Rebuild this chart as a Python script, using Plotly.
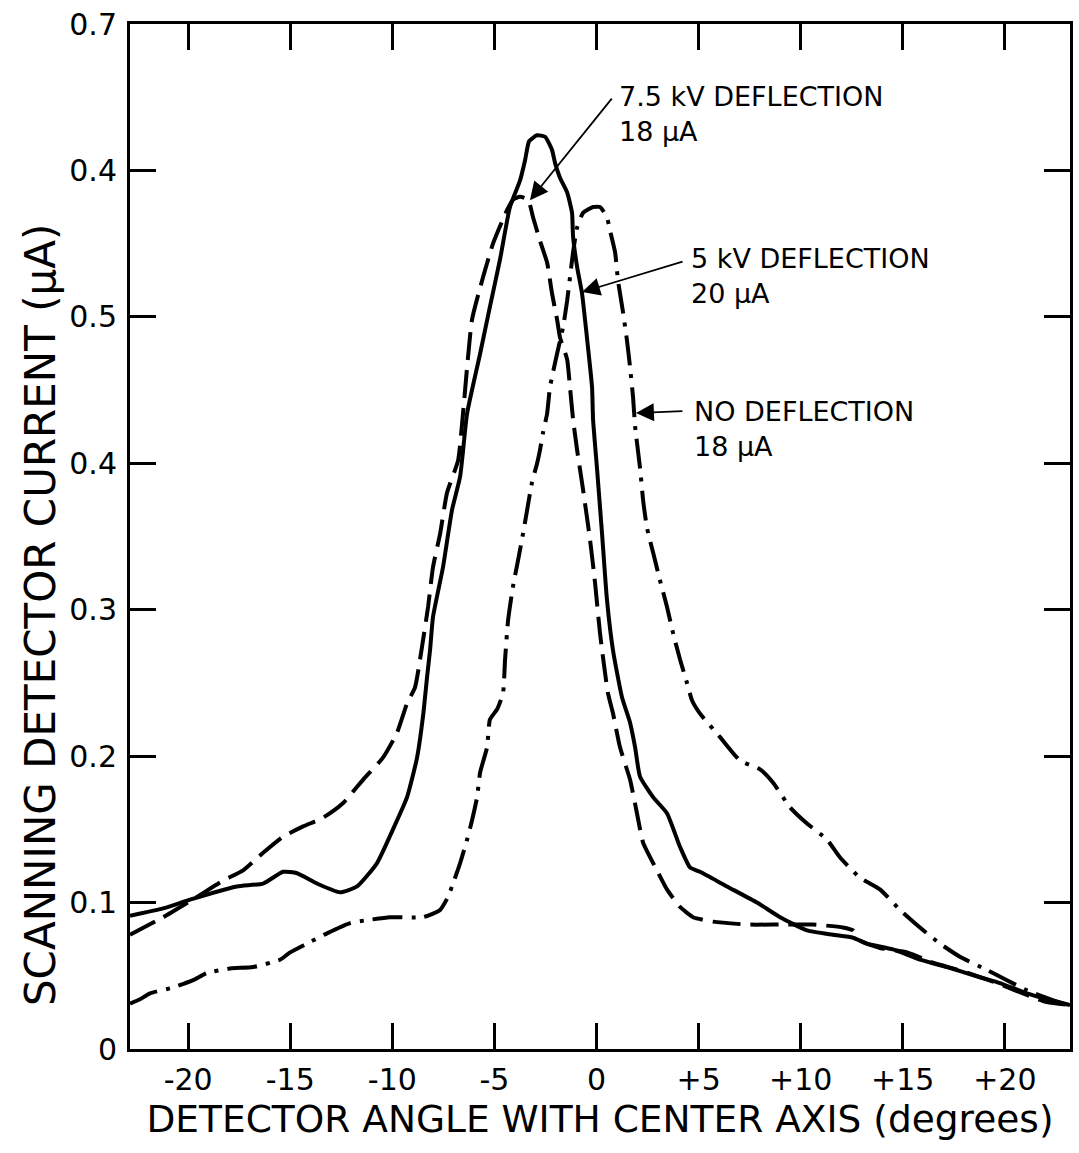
import plotly.graph_objects as go

# ---- data ----
angle_5kv = [-22.85, -21.23, -19.91, -17.61, -16.33, -15.35, -14.67, -13.69, -12.56, -11.73,
             -10.75, -9.97, -9.28, -8.79, -8.50, -8.30, -8.15, -8.01, -7.52, -7.08,
             -6.68, -6.34, -5.70, -5.22, -4.73, -4.24, -3.75, -3.50, -3.30, -2.91,
             -2.52, -2.18, -2.03, -1.79, -1.44, -1.20, -1.15, -0.95, -0.71, -0.47,
             -0.22, -0.17, 0.02, 0.27, 0.51, 0.81, 1.25, 1.64, 1.89, 2.13,
             2.77, 3.45, 4.09, 4.58, 5.07, 6.39, 7.86, 8.99, 10.31, 11.58,
             12.56, 13.25, 14.52, 15.84, 17.16, 18.78, 19.76, 21.08, 22.06, 23.19]
current_5kv = [0.091, 0.096, 0.102, 0.111, 0.113, 0.121, 0.120, 0.113, 0.107, 0.111,
               0.127, 0.150, 0.172, 0.199, 0.227, 0.254, 0.273, 0.295, 0.329, 0.368,
               0.391, 0.434, 0.475, 0.507, 0.539, 0.575, 0.593, 0.607, 0.620, 0.624,
               0.623, 0.614, 0.605, 0.595, 0.585, 0.571, 0.555, 0.534, 0.516, 0.486,
               0.452, 0.430, 0.397, 0.352, 0.307, 0.272, 0.240, 0.223, 0.206, 0.186,
               0.172, 0.161, 0.138, 0.124, 0.121, 0.111, 0.100, 0.090, 0.081, 0.078,
               0.076, 0.072, 0.068, 0.061, 0.056, 0.049, 0.045, 0.038, 0.034, 0.030]

angle_7kv = [-22.85, -21.23, -19.56, -18.29, -17.31, -16.33, -15.35, -14.37, -13.39, -12.41,
             -11.43, -10.46, -9.77, -9.28, -8.89, -8.50, -8.25, -8.01, -7.66, -7.32,
             -6.78, -6.54, -6.10, -5.56, -5.07, -4.38, -4.09, -3.75, -3.35, -3.11,
             -2.77, -2.42, -2.18, -1.93, -1.79, -1.44, -1.30, -1.15, -0.95, -0.66,
             -0.32, -0.07, 0.17, 0.56, 0.81, 1.15, 1.64, 1.98, 2.28, 2.96,
             3.45, 4.09, 4.73, 5.71, 7.37, 8.99, 10.60, 12.07, 12.56, 12.90,
             13.88, 15.21, 16.48, 17.95, 19.61, 21.23, 22.06, 23.19]
current_7kv = [0.078, 0.090, 0.104, 0.115, 0.122, 0.134, 0.145, 0.152, 0.158, 0.168,
               0.184, 0.199, 0.216, 0.236, 0.247, 0.279, 0.302, 0.329, 0.352, 0.380,
               0.402, 0.434, 0.498, 0.527, 0.550, 0.573, 0.580, 0.582, 0.580, 0.568,
               0.552, 0.537, 0.516, 0.498, 0.486, 0.471, 0.452, 0.430, 0.409, 0.382,
               0.348, 0.318, 0.284, 0.243, 0.229, 0.206, 0.184, 0.161, 0.141, 0.122,
               0.109, 0.097, 0.090, 0.087, 0.085, 0.085, 0.085, 0.083, 0.081, 0.074,
               0.069, 0.066, 0.059, 0.053, 0.045, 0.036, 0.032, 0.030]

angle_nodef = [-22.85, -22.36, -21.87, -20.74, -19.76, -19.07, -17.95, -16.82, -15.50, -15.01,
               -14.18, -13.20, -12.07, -11.24, -10.11, -8.50, -7.66, -7.27, -7.03, -6.68,
               -6.34, -6.10, -5.85, -5.70, -5.36, -5.22, -4.87, -4.58, -4.48, -4.33,
               -4.09, -3.84, -3.60, -3.40, -3.16, -2.91, -2.77, -2.62, -2.42, -2.28,
               -1.93, -1.64, -1.44, -1.30, -1.15, -0.95, -0.66, -0.17, 0.17, 0.51,
               0.66, 0.91, 1.05, 1.30, 1.49, 1.64, 1.79, 1.89, 2.13, 2.28,
               2.47, 2.77, 3.11, 3.45, 3.75, 4.09, 4.43, 4.68, 5.07, 6.05,
               7.03, 8.01, 8.64, 9.48, 10.31, 11.29, 11.92, 12.90, 13.88, 14.86,
               15.84, 16.82, 17.80, 19.12, 20.10, 21.08, 22.21, 23.04]
current_nodef = [0.031, 0.034, 0.038, 0.042, 0.047, 0.052, 0.055, 0.056, 0.061, 0.066,
                 0.072, 0.079, 0.086, 0.088, 0.090, 0.090, 0.095, 0.104, 0.113, 0.127,
                 0.143, 0.156, 0.172, 0.189, 0.206, 0.225, 0.232, 0.243, 0.266, 0.293,
                 0.316, 0.334, 0.352, 0.368, 0.387, 0.400, 0.409, 0.421, 0.434, 0.452,
                 0.475, 0.493, 0.511, 0.527, 0.544, 0.561, 0.571, 0.575, 0.575, 0.568,
                 0.559, 0.544, 0.525, 0.503, 0.484, 0.466, 0.445, 0.425, 0.397, 0.375,
                 0.356, 0.339, 0.320, 0.302, 0.284, 0.266, 0.250, 0.238, 0.229, 0.213,
                 0.197, 0.191, 0.182, 0.165, 0.154, 0.143, 0.131, 0.117, 0.109, 0.095,
                 0.083, 0.072, 0.063, 0.054, 0.047, 0.040, 0.034, 0.030]

x_tickvals = [-20, -15, -10, -5, 0, 5, 10, 15, 20]
x_ticktext = ["-20", "-15", "-10", "-5", "0", "+5", "+10", "+15", "+20"]
y_tickvals = [0, 0.1, 0.2, 0.3, 0.4, 0.5, 0.6, 0.7]
y_ticktext = ["0", "0.1", "0.2", "0.3", "0.4", "0.5", "0.4", "0.7"]

FONT = "DejaVu Sans"

fig = go.Figure()
fig.add_trace(go.Scatter(x=angle_nodef, y=current_nodef, mode="lines", name="NO DEFLECTION 18 μA",
                         line=dict(color="black", width=4, dash="30px,9px,4px,9px",
                                   shape="spline", smoothing=0.5)))
fig.add_trace(go.Scatter(x=angle_7kv, y=current_7kv, mode="lines", name="7.5 kV DEFLECTION 18 μA",
                         line=dict(color="black", width=4, dash="28px,10px",
                                   shape="spline", smoothing=0.5)))
fig.add_trace(go.Scatter(x=angle_5kv, y=current_5kv, mode="lines", name="5 kV DEFLECTION 20 μA",
                         line=dict(color="black", width=4, shape="spline", smoothing=0.5)))

# arrows pointing at curves
arrows = [
    dict(x=-3.26, y=0.5797, ax=83, ay=-103),
    dict(x=-0.71, y=0.5169, ax=102, ay=-31),
    dict(x=1.93, y=0.4343, ax=48, ay=-2),
]
for a in arrows:
    fig.add_annotation(x=a["x"], y=a["y"], xref="x", yref="y", ax=a["ax"], ay=a["ay"],
                       axref="pixel", ayref="pixel", text="", showarrow=True,
                       arrowhead=2, arrowsize=2.0, arrowwidth=1.8, arrowcolor="black")

labels = [
    dict(x=0.5180, y=0.9122, text="7.5 kV DEFLECTION<br>18 μA"),
    dict(x=0.5950, y=0.7537, text="5 kV DEFLECTION<br>20 μA"),
    dict(x=0.5980, y=0.6044, text="NO DEFLECTION<br>18 μA"),
]
for lb in labels:
    fig.add_annotation(x=lb["x"], y=lb["y"], xref="paper", yref="paper", text=lb["text"],
                       showarrow=False, xanchor="left", yanchor="middle", align="left",
                       font=dict(family=FONT, size=27, color="black"))

# y-axis title (placed as in the reference, below the plot-area centre)
fig.add_annotation(x=-0.0957, y=0.4234, xref="paper", yref="paper",
                   text="SCANNING DETECTOR CURRENT (μA)", textangle=-90,
                   showarrow=False, xanchor="center", yanchor="middle",
                   font=dict(family=FONT, size=42, color="black"))

fig.update_layout(
    width=1079, height=1153,
    margin=dict(l=130, r=9, t=24, b=104),
    plot_bgcolor="white", paper_bgcolor="white",
    showlegend=False,
    font=dict(family=FONT, color="black"),
)
fig.update_xaxes(
    range=[-22.85, 23.19], tickvals=x_tickvals, ticktext=x_ticktext,
    ticks="inside", ticklen=26, tickwidth=2.5, tickcolor="black",
    showline=True, linewidth=3, linecolor="black", mirror="ticks",
    showgrid=False, zeroline=False,
    tickfont=dict(family=FONT, size=30, color="black"),
    ticklabelstandoff=2,
    title=dict(text="DETECTOR ANGLE WITH CENTER AXIS (degrees)",
               font=dict(family=FONT, size=37.5, color="black"), standoff=6),
    automargin=False,
)
fig.update_yaxes(
    range=[0, 0.7], tickvals=y_tickvals, ticktext=y_ticktext,
    ticks="inside", ticklen=26, tickwidth=2.5, tickcolor="black",
    showline=True, linewidth=3, linecolor="black", mirror="ticks",
    showgrid=False, zeroline=False,
    tickfont=dict(family=FONT, size=30, color="black"),
    ticklabelstandoff=4,
    automargin=False,
)

fig.write_html("out.html", config={"displayModeBar": False})
